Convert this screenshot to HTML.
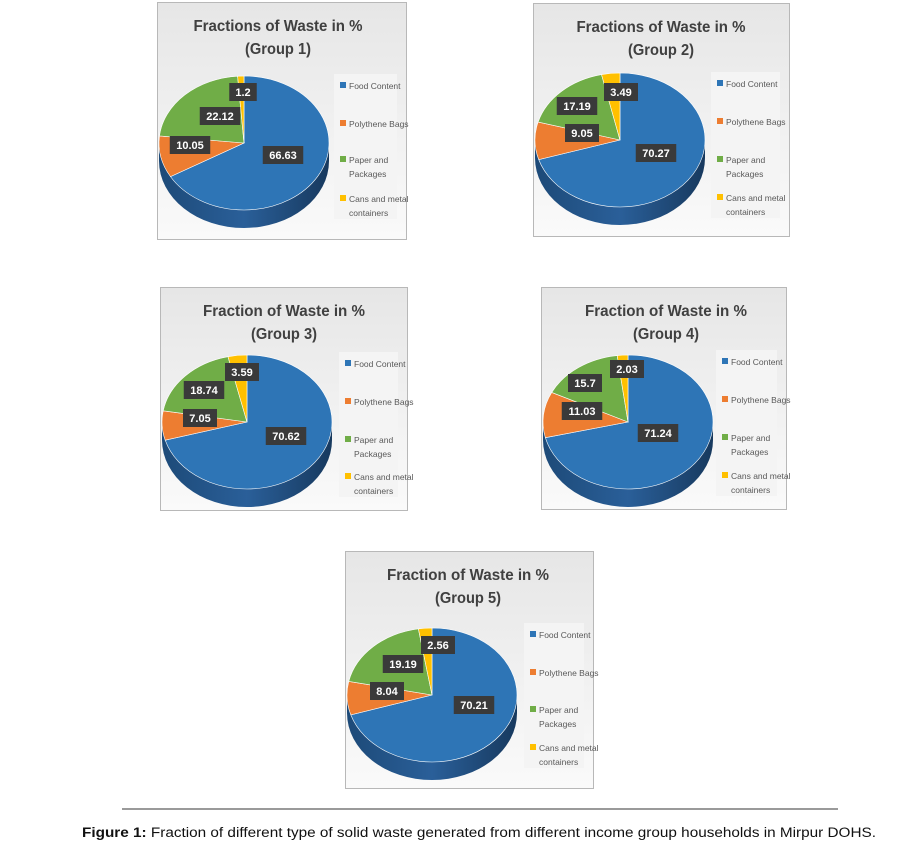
<!DOCTYPE html>
<html><head><meta charset="utf-8"><style>
html,body{margin:0;padding:0;background:#fff;}
svg{display:block;font-family:"Liberation Sans",sans-serif;}
</style></head><body>
<svg id="s" width="923" height="847" viewBox="0 0 923 847" xmlns="http://www.w3.org/2000/svg">
<defs>
<linearGradient id="bg" x1="0" y1="0" x2="0" y2="1"><stop offset="0" stop-color="#e6e6e6"/><stop offset="1" stop-color="#fafafa"/></linearGradient>
<linearGradient id="side" x1="0" y1="0" x2="1" y2="0"><stop offset="0" stop-color="#1d4a78"/><stop offset="0.5" stop-color="#2a5f99"/><stop offset="1" stop-color="#17395e"/></linearGradient>
</defs>
<line x1="122" y1="809" x2="838" y2="809" stroke="#9a9a9a" stroke-width="2"/>
<text x="82" y="837" font-size="13.5" textLength="794" lengthAdjust="spacingAndGlyphs" fill="#111"><tspan font-weight="bold">Figure 1:</tspan> Fraction of different type of solid waste generated from different income group households in Mirpur DOHS.</text>
</svg>
<script>
const S=document.getElementById('s');const NS='http://www.w3.org/2000/svg';
function el(t,a,txt){const e=document.createElementNS(NS,t);for(const k in a)e.setAttribute(k,a[k]);if(txt!==undefined)e.textContent=txt;S.appendChild(e);return e;}
const P=[
 {x:157,y:2,w:250,h:238,pt:76,t:"Fractions of Waste in %",g:"(Group 1)",v:[66.63,10.05,22.12,1.2],lab:[[283,155],[190,145],[220,116],[243,92]],lx:340,ly:[86,124,160,199]},
 {x:533,y:3,w:257,h:234,pt:73,t:"Fractions of Waste in %",g:"(Group 2)",v:[70.27,9.05,17.19,3.49],lab:[[656,153],[582,133],[577,106],[621,92]],lx:717,ly:[84,122,160,198]},
 {x:160,y:287,w:248,h:224,pt:355,t:"Fraction of Waste in %",g:"(Group 3)",v:[70.62,7.05,18.74,3.59],lab:[[286,436],[200,418],[204,390],[242,372]],lx:345,ly:[364,402,440,477]},
 {x:541,y:287,w:246,h:223,pt:355,t:"Fraction of Waste in %",g:"(Group 4)",v:[71.24,11.03,15.7,2.03],lab:[[658,433],[582,411],[585,383],[627,369]],lx:722,ly:[362,400,438,476]},
 {x:345,y:551,w:249,h:238,pt:628,t:"Fraction of Waste in %",g:"(Group 5)",v:[70.21,8.04,19.19,2.56],lab:[[474,705],[387,691],[403,664],[438,645]],lx:530,ly:[635,673,710,748]}
];
const C=["#2e75b6","#ed7d31","#70ad47","#ffc000"];
const N=["Food Content","Polythene Bags","Paper and|Packages","Cans and metal|containers"];
P.forEach((p,i)=>{
 el('rect',{x:p.x+.5,y:p.y+.5,width:p.w-1,height:p.h-1,fill:'url(#bg)',stroke:'#b8b8b8'});
 const tx=p.x+ (i<1?121:i==1?128:i==2?124:i==3?125:123);
 const tl=p.t.startsWith("Fractions")?169:162;
 el('text',{x:tx-tl/2,y:p.y+29,'font-size':16,'font-weight':'bold',textLength:tl,lengthAdjust:'spacingAndGlyphs',fill:'#404040'},p.t);
 el('text',{x:tx-33,y:p.y+52,'font-size':16,'font-weight':'bold',textLength:66,lengthAdjust:'spacingAndGlyphs',fill:'#404040'},p.g);
 el('rect',{x:p.lx-6,y:p.ly[0]-12,width:p.x+p.w-p.lx-4,height:p.ly[3]-p.ly[0]+32,fill:'#f4f4f4'});
 const rx=85,ry=67,d=18,cx=p.x+87,cy=p.pt+ry;
 el('path',{d:`M${cx-rx},${cy} L${cx-rx},${cy+d} A${rx},${ry} 0 0 0 ${cx+rx},${cy+d} L${cx+rx},${cy} Z`,fill:'url(#side)'});
 let a=0;
 p.v.forEach((v,k)=>{
  const a0=a/100*2*Math.PI,a1=(a+v)/100*2*Math.PI;a+=v;
  const x0=cx+rx*Math.sin(a0),y0=cy-ry*Math.cos(a0),x1=cx+rx*Math.sin(a1),y1=cy-ry*Math.cos(a1);
  el('path',{d:`M${cx},${cy} L${x0},${y0} A${rx},${ry} 0 ${v>50?1:0} 1 ${x1},${y1} Z`,fill:C[k],stroke:'#fff','stroke-width':0.6});
 });
 p.lab.forEach((l,k)=>{
  const s=String(p.v[k]);const w=s.length*6.5+8;
  el('rect',{x:l[0]-w/2,y:l[1]-9,width:w,height:18,fill:'#3a3a3a'});
  el('text',{x:l[0],y:l[1]+4,'font-size':11,'font-weight':'bold','text-anchor':'middle',fill:'#fff'},s);
 });
 N.forEach((n,k)=>{
  const y=p.ly[k];
  el('rect',{x:p.lx,y:y-4,width:6,height:6,fill:C[k]});
  n.split('|').forEach((t,j)=>el('text',{x:p.lx+9,y:y+3+j*14,'font-size':8.5,fill:'#595959'},t));
 });
});
</script>
</body></html>
